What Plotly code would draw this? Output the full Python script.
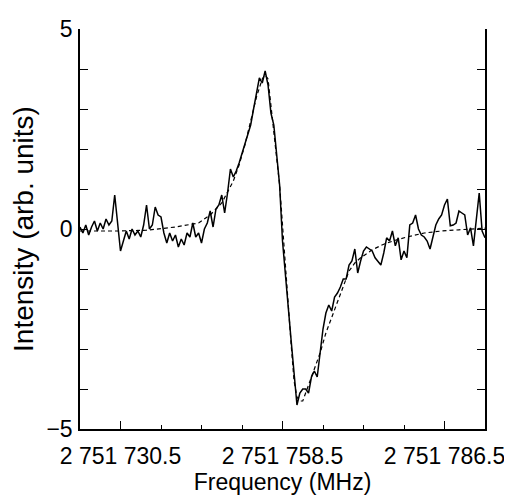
import plotly.graph_objects as go

# Measured spectrum (sampled every 0.5 MHz starting at 2 751 723.5 MHz; offset 2 751 000 MHz)
freq_start = 723.5
freq_step = 0.5
intensity = [
    0.05, -0.1, 0.1, -0.15, 0.05, 0.2, -0.05, 0.15, 0.0, 0.25,
    0.1, 0.2, 0.85, 0.1, -0.55, -0.3, -0.05, -0.25, 0.0, -0.15,
    -0.05, -0.2, 0.1, 0.6, 0.0, 0.1, 0.55, 0.35, 0.3, -0.1,
    -0.35, -0.1, -0.3, -0.15, -0.45, -0.25, -0.4, -0.1, -0.2, 0.15,
    -0.2, -0.1, -0.35, 0.0, 0.15, 0.45, 0.05, 0.5, 0.6, 0.85,
    0.4, 0.9, 1.5, 1.3, 1.45, 1.65, 1.9, 2.1, 2.35, 2.6,
    3.0, 3.4, 3.78, 3.65, 3.95, 3.6, 2.9, 2.6, 1.9, 1.1,
    -0.3, -1.2, -2.0, -2.8, -3.6, -4.4, -4.1, -4.0, -4.0, -4.1,
    -3.7, -3.55, -3.7, -3.1, -2.5, -2.1, -1.9, -2.05, -1.7, -1.6,
    -1.45, -1.25, -1.25, -0.9, -0.8, -0.5, -1.1, -0.8, -0.55, -0.45,
    -0.5, -0.55, -0.72, -0.8, -0.9, -0.6, -0.22, -0.3, -0.05, -0.42,
    -0.22, -0.77, -0.55, -0.72, 0.1, 0.15, 0.35, 0.0, -0.15, -0.2,
    -0.3, -0.5, -0.2, 0.1, 0.25, 0.35, 0.6, 0.75, 0.08, 0.1,
    0.15, 0.45, 0.4, 0.35, -0.15, 0.03, -0.42, 0.3, 0.9, -0.05,
    -0.22,
]
freq = [freq_start + i * freq_step for i in range(len(intensity))]

# Fitted curve (dashed)
fit_freq = [723.5, 730, 735, 740, 744, 746, 748, 750, 751, 752, 753, 754, 755,
            755.5, 756, 757, 757.5, 758, 758.5, 759, 759.5, 760, 760.5, 761,
            761.5, 762, 763, 764, 765, 766, 767, 768, 769, 770, 771, 772, 774,
            776, 778, 780, 783, 786, 789, 793.5]
fit_val = [-0.05, -0.05, -0.03, 0.05, 0.15, 0.35, 0.65, 1.2, 1.6, 2.1, 2.7, 3.3, 3.75,
           3.85, 3.75, 2.4, 1.8, 1.1, 0.1, -1.0, -1.9, -2.9, -3.8, -4.2,
           -4.3, -4.3, -3.9, -3.5, -3.1, -2.6, -2.2, -1.8, -1.4, -1.05, -0.85, -0.72, -0.52,
           -0.38, -0.28, -0.2, -0.1, -0.05, -0.02, 0.02]

x_tick_vals = [730.5, 758.5, 786.5]
x_tick_text = ["2 751 730.5", "2 751 758.5", "2 751 786.5"]
y_tick_vals = [-5, 0, 5]
y_tick_text = ["\u22125", "0", "5"]

fig = go.Figure()
fig.add_trace(go.Scatter(x=fit_freq, y=fit_val, mode="lines",
                         line=dict(color="black", width=1.2, dash="4px,3px"),
                         hoverinfo="skip"))
fig.add_trace(go.Scatter(x=freq, y=intensity, mode="lines",
                         line=dict(color="black", width=1.5)))

family = "Liberation Sans, Arial, Helvetica, sans-serif"
font = dict(family=family, size=23, color="black")

fig.update_layout(
    width=512, height=501,
    margin=dict(l=72, r=35, t=21, b=80),
    plot_bgcolor="white", paper_bgcolor="white",
    showlegend=False,
    font=font,
    xaxis=dict(
        range=[723.5, 793.5], showgrid=False, zeroline=False, automargin=False,
        showline=True, linecolor="black", linewidth=1.5,
        ticks="inside", ticklen=8, tickwidth=1.2, tickcolor="black",
        tickvals=x_tick_vals, ticktext=x_tick_text, ticklabelstandoff=6,
        minor=dict(tick0=723.5, dtick=7, ticks="inside", ticklen=4, tickcolor="black", tickwidth=1),
        title=dict(text="Frequency (MHz)", standoff=0, font=dict(family=family, size=23, color="black")),
    ),
    yaxis=dict(
        range=[-5, 5], showgrid=False, zeroline=False, automargin=False,
        showline=True, linecolor="black", linewidth=1.5, mirror="ticks",
        ticks="inside", ticklen=8, tickwidth=1.2, tickcolor="black",
        tickvals=y_tick_vals, ticktext=y_tick_text, ticklabelstandoff=1,
        minor=dict(dtick=1, ticks="inside", ticklen=8, tickcolor="black", tickwidth=1.2),
        title=dict(text="Intensity (arb. units)", standoff=6),
    ),
)

fig.write_html("out.html")
